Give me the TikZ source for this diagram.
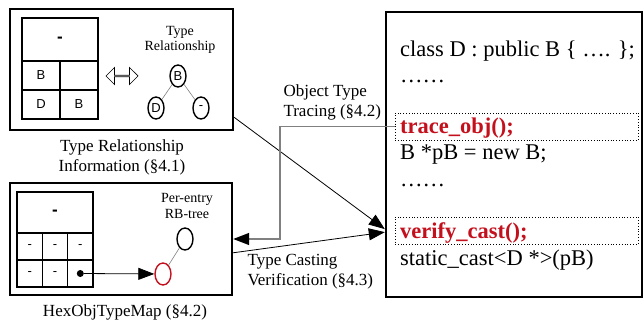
\documentclass[tikz,border=0pt]{standalone}
\usepackage{fontspec}
\setmainfont{Liberation Serif}
\newfontfamily\cellfont{Liberation Sans}
\usepackage{tikz}
\usetikzlibrary{shapes.geometric}
\usetikzlibrary{shapes.arrows}
\usetikzlibrary{arrows.meta}
\definecolor{codered}{RGB}{196,16,28}

\begin{document}
\begin{tikzpicture}[x=1pt,y=-1pt,
	outer box/.style={draw, line width=2.4pt, inner sep=0pt},
	cell/.style={draw, line width=1.3pt, inner sep=0pt, font=\cellfont\fontsize{13}{13}\selectfont},
	head cell/.style={cell, font=\cellfont\bfseries\fontsize{17}{17}\selectfont},
	tree node/.style={ellipse, draw, line width=1.4pt, minimum width=16pt, minimum height=22pt, inner sep=0pt, font=\cellfont\fontsize{13}{13}\selectfont},
	label text/.style={align=center, font=\fontsize{17}{20}\selectfont},
	small text/.style={align=center, font=\fontsize{14}{15.5}\selectfont},
	code line/.style={anchor=base west, inner sep=0pt, font=\fontsize{22.5}{22.5}\selectfont},
	red line/.style={code line, text=codered, font=\fontsize{22.5}{22.5}\selectfont\bfseries},
	dot box/.style={draw, dotted, line width=0.8pt, minimum width=243pt, minimum height=27pt, inner sep=0pt},
	big tip/.style={-{Triangle[length=16pt,width=12pt,color=black]}}]

	\useasboundingbox (0,0) rectangle (644,320);

	\node[outer box, minimum width=223pt, minimum height=121pt] (1) at (121.5,69.5) {};
	\node[head cell, minimum width=76pt, minimum height=43pt] (t0) at (60,39.5) {-};
	\node[cell, minimum width=38pt, minimum height=29pt] (t1) at (41,75.5) {B};
	\node[cell, minimum width=38pt, minimum height=29pt] (t2) at (79,75.5) {};
	\node[cell, minimum width=38pt, minimum height=29pt] (t3) at (41,104.5) {D};
	\node[cell, minimum width=38pt, minimum height=29pt] (t4) at (79,104.5) {B};
	\node[double arrow, draw, line width=0.7pt, minimum height=32pt, minimum width=17pt, double arrow head extend=4pt, inner sep=0pt] (da) at (122,76) {};
	\node[small text] (tl) at (180,40) {Type\\Relationship};
	\node[tree node] (tb) at (178,76) {B};
	\node[tree node] (td) at (156,108) {D};
	\node[tree node] (tm) at (201,108) {-};
	\path[draw=gray, line width=0.6pt] (tb) edge (td) edge (tm);
	\node[label text] (c1) at (122,157) {Type Relationship\\Information (§4.1)};

	\node[outer box, minimum width=222pt, minimum height=112pt] (2) at (121,239) {};
	\node[head cell, minimum width=76pt, minimum height=41pt] (h0) at (55,212.5) {-};
	\node[cell, minimum width=25.3pt, minimum height=27pt] (h1) at (29.7,246.5) {-};
	\node[cell, minimum width=25.3pt, minimum height=27pt] (h2) at (55,246.5) {-};
	\node[cell, minimum width=25.3pt, minimum height=27pt] (h3) at (80.3,246.5) {-};
	\node[cell, minimum width=25.3pt, minimum height=27pt] (h4) at (29.7,273.5) {-};
	\node[cell, minimum width=25.3pt, minimum height=27pt] (h5) at (55,273.5) {-};
	\node[cell, minimum width=25.3pt, minimum height=27pt] (h6) at (80.3,273.5) {};
	\node[circle, fill, minimum size=7pt, inner sep=0pt] (dot) at (h6) {};
	\node[tree node, draw=codered] (rr) at (163,274) {};
	\node[tree node] (rb) at (185,239) {};
	\node[small text] (rl) at (187,206) {Per-entry\\RB-tree};
	\draw[big tip, line width=0.8pt] (dot) -- (rr);
	\draw[gray, line width=0.6pt] (rr) -- (rb);
	\node[label text] (c2) at (125,312) {HexObjTypeMap (§4.2)};

	\node[outer box, minimum width=256pt, minimum height=285pt] (3) at (514,154.5) {};
	\node[code line] (l1) at (400,57) {class D : public B \{ …. \};};
	\node[code line] (l2) at (400,83) {……};
	\node[dot box] (4) at (516.5,126.5) {};
	\node[red line] (l3) at (400,134) {trace\_obj();};
	\node[code line] (l4) at (400,160) {B *pB = new B;};
	\node[code line] (l5) at (400,186) {……};
	\node[dot box] (5) at (516.5,230.5) {};
	\node[red line] (l6) at (400,238) {verify\_cast();};
	\node[code line] (l7) at (400,265) {static\_cast<D *>(pB)};

	\coordinate (bend) at (280,239);
	\draw[big tip, line width=0.8pt] (1.337) -- (3.210);
	\draw[big tip, line width=0.8pt] (2.353) -- (3.211.5);
	\draw[big tip, gray, line width=1.3pt] (4.west) -| (bend) -- (2.east);
	\node[label text, align=left, anchor=west] (o1) at (280,102) {Object Type\\Tracing (§4.2)};
	\node[label text, align=left, anchor=west] (o2) at (244,272) {Type Casting\\Verification (§4.3)};

\end{tikzpicture}
\end{document}
